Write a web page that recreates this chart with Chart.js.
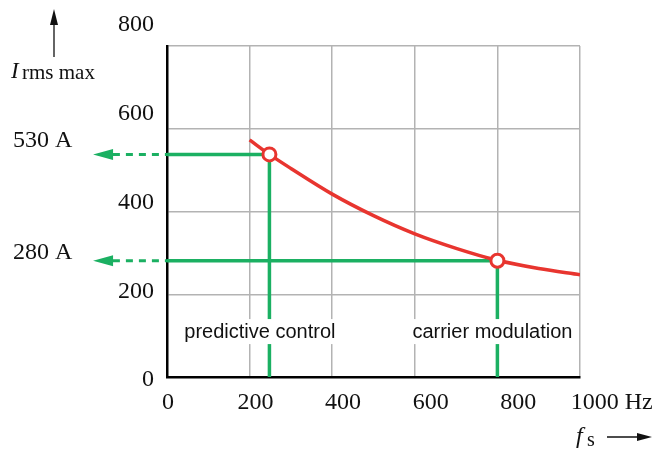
<!DOCTYPE html>
<html>
<head>
<meta charset="utf-8">
<script src="https://cdn.jsdelivr.net/npm/chart.js@4.4.0/dist/chart.umd.min.js"></script>
<style>
  html, body { margin: 0; padding: 0; background: #fff; }
  #wrap { width: 671px; height: 449px; }
</style>
</head>
<body>
<div id="wrap"><canvas id="chart" width="671" height="449"></canvas></div>
<script>
// curve: max rms current vs switching frequency
const freqHz = [200, 248, 300, 400, 500, 600, 700, 800, 900, 1000];
const currentA = [573, 538, 504, 442, 390, 346, 311, 282, 262, 247];

// operating points (predictive control, carrier modulation)
const opFreq = [248, 800];
const opCurrent = [538, 281];
const opNames = ['predictive control', 'carrier modulation'];
const opCurrentLabels = ['530 A', '280 A'];

// axis ticks
const xTicks = [0, 200, 400, 600, 800, 1000];
const xTickLabels = ['0', '200', '400', '600', '800', '1000 Hz'];
const yTicks = [0, 200, 400, 600, 800];

const RED = '#e8352f';
const GREEN = '#1bb062';
const SERIF = '"Liberation Serif", "Times New Roman", serif';
const SANS = '"Liberation Sans", Arial, sans-serif';

// green guide lines: horizontal to the y axis, vertical down to the x axis
const guides = opFreq.map((f, i) => ({
  data: [{x: 0, y: opCurrent[i]}, {x: f, y: opCurrent[i]}, {x: f, y: 0}],
  showLine: true, borderColor: GREEN, borderWidth: 3.5, pointRadius: 0, order: 3
}));
// dashed continuation left of the axis, ending at the arrow head
const dashes = opCurrent.map(c => ({
  data: [{x: -131, y: c}, {x: 0, y: c}],
  showLine: true, borderColor: GREEN, borderWidth: 3, borderDash: [7, 6],
  pointRadius: 0, clip: false, order: 3
}));

const labelPlugin = {
  id: 'labels',
  afterDatasetsDraw(chart) {
    const {ctx, scales: {x, y}} = chart;
    ctx.save();
    // arrow heads at the end of the dashed lines
    ctx.fillStyle = GREEN;
    opCurrent.forEach(c => {
      const tip = x.getPixelForValue(-179);
      const py = y.getPixelForValue(c);
      ctx.beginPath();
      ctx.moveTo(tip, py);
      ctx.lineTo(tip + 20, py - 5.5);
      ctx.lineTo(tip + 20, py + 5.5);
      ctx.closePath();
      ctx.fill();
    });

    // labels in white boxes that cut the lines
    ctx.font = '20px ' + SANS;
    ctx.textAlign = 'center';
    ctx.textBaseline = 'middle';
    const centers = [225, 788];
    opNames.forEach((t, i) => {
      const cx = x.getPixelForValue(centers[i]);
      const cy = y.getPixelForValue(111);
      const w = ctx.measureText(t).width + 4;
      ctx.fillStyle = '#fff';
      ctx.fillRect(cx - w / 2, cy - 12, w, 25);
      ctx.fillStyle = '#111';
      ctx.fillText(t, cx, cy + 1);
    });
    ctx.restore();
  },
  afterDraw(chart) {
    const {ctx, scales: {x, y}} = chart;
    ctx.save();
    // tick labels sit on a slightly wider spacing than the grid in the original
    ctx.fillStyle = '#111';
    ctx.font = '24px ' + SERIF;
    ctx.textBaseline = 'middle';
    ctx.textAlign = 'right';
    yTicks.forEach(v => ctx.fillText(String(v), 154, y.getPixelForValue(v * 1.0724) + 3));
    ctx.textAlign = 'center';
    xTicks.forEach((v, i) => {
      let px = x.getPixelForValue(v * 1.06) + 1;
      if (i === xTicks.length - 1) px += 6;
      ctx.fillText(xTickLabels[i], px, 403);
    });

    // current values at the left
    ctx.textAlign = 'left';
    ctx.fillText(opCurrentLabels[0], 13, y.getPixelForValue(opCurrent[0]) - 14);
    ctx.fillText(opCurrentLabels[1], 13, y.getPixelForValue(opCurrent[1]) - 8);

    // y axis quantity with arrow
    ctx.textBaseline = 'alphabetic';
    ctx.font = 'italic 23px ' + SERIF;
    ctx.fillText('I', 11, 78);
    ctx.font = '21px ' + SERIF;
    ctx.fillText('rms max', 22, 79);
    ctx.strokeStyle = '#111';
    ctx.lineWidth = 1.3;
    ctx.beginPath(); ctx.moveTo(54, 57); ctx.lineTo(54, 20); ctx.stroke();
    ctx.beginPath(); ctx.moveTo(54, 9); ctx.lineTo(50, 25); ctx.lineTo(58, 25); ctx.closePath(); ctx.fill();

    // x axis quantity with arrow
    ctx.font = 'italic 24px ' + SERIF;
    ctx.fillText('f', 576, 443);
    ctx.font = '20px ' + SERIF;
    ctx.fillText('s', 587, 446);
    ctx.beginPath(); ctx.moveTo(607, 437); ctx.lineTo(642, 437); ctx.stroke();
    ctx.beginPath(); ctx.moveTo(652, 437); ctx.lineTo(637, 433); ctx.lineTo(637, 441); ctx.closePath(); ctx.fill();
    ctx.restore();
  }
};

new Chart(document.getElementById('chart'), {
  type: 'scatter',
  data: {
    datasets: [
      {
        data: opFreq.map((f, i) => ({x: f, y: opCurrent[i]})),
        showLine: false, pointRadius: 6.5, pointBorderWidth: 3,
        pointBackgroundColor: '#fff', pointBorderColor: RED, order: 1
      },
      {
        data: freqHz.map((f, i) => ({x: f, y: currentA[i]})),
        showLine: true, borderColor: RED, borderWidth: 3.5, pointRadius: 0,
        cubicInterpolationMode: 'monotone', order: 2
      },
      ...guides, ...dashes
    ]
  },
  options: {
    responsive: false,
    animation: false,
    events: [],
    layout: {padding: {left: 167, right: 91, top: 46, bottom: 72}},
    plugins: {legend: {display: false}, tooltip: {enabled: false}},
    scales: {
      x: {
        type: 'linear', min: 0, max: 1000,
        afterBuildTicks: s => { s.ticks = xTicks.map(v => ({value: v})); },
        afterFit: s => { s.height = 0; },
        ticks: {display: false},
        grid: {color: '#b3b3b3', lineWidth: 1.5, drawTicks: false},
        border: {color: '#000', width: 2.5}
      },
      y: {
        type: 'linear', min: 0, max: 800,
        afterBuildTicks: s => { s.ticks = yTicks.map(v => ({value: v})); },
        afterFit: s => { s.width = 0; },
        ticks: {display: false},
        grid: {color: '#b3b3b3', lineWidth: 1.5, drawTicks: false},
        border: {color: '#000', width: 2.5}
      }
    }
  },
  plugins: [labelPlugin]
});
</script>
</body>
</html>
